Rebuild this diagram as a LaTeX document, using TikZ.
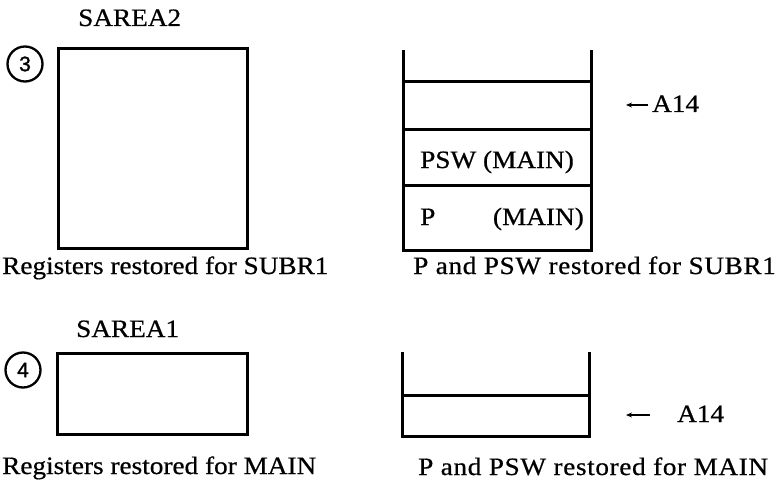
\documentclass[tikz,border=0pt]{standalone}
\usepackage{fontspec}
\setmainfont[FakeStretch=1.09,FakeBold=0.6]{Liberation Serif}
\newfontfamily\numfont[FakeBold=1.2]{Liberation Sans}
\newfontfamily\widefont[FakeStretch=1.09,FakeBold=0.6,LetterSpace=2.5]{Liberation Serif}
\usetikzlibrary{arrows.meta}
\tikzset{
  txt/.style={anchor=base west, inner sep=0pt, font=\fontsize{25}{29}\selectfont},
  widetxt/.style={anchor=base west, inner sep=0pt, font=\widefont\fontsize{25}{29}\selectfont},
  regbox/.style={draw, line width=3pt, inner sep=0pt},
  stk/.style={line width=3pt},
  num/.style={circle, draw, line width=2.3pt, minimum size=35pt, inner sep=0pt, font=\numfont\fontsize{21}{21}\selectfont},
  ptr/.style={line width=1.2pt, -{Stealth[length=6pt,width=5pt]}}
}
\begin{document}
\begin{tikzpicture}[x=1pt,y=-1pt]
\useasboundingbox (0,0) rectangle (784,484);
% ---- step 3 ----
\node[num] (n3) at (25,64) {3};
\node[txt] (sarea2) at (78,26) {SAREA2};
\node[regbox, minimum width=189pt, minimum height=199pt] (box2) at (152.5,148.5) {};
\node[txt] (cap1) at (2,274) {Registers restored for SUBR1};
% stack 1
\coordinate (s1tl) at (403,50);
\coordinate (s1tr) at (591,50);
\coordinate (s1bl) at (403,250);
\coordinate (s1br) at (591,250);
\draw[stk] (s1tl) -- (s1bl) -- (s1br) -- (s1tr);
\coordinate (s1a) at (403,82);  \coordinate (s1a2) at (591,82);
\coordinate (s1b) at (403,130); \coordinate (s1b2) at (591,130);
\coordinate (s1c) at (403,185); \coordinate (s1c2) at (591,185);
\draw[stk] (s1a) -- (s1a2);
\draw[stk] (s1b) -- (s1b2);
\draw[stk] (s1c) -- (s1c2);
\node[txt] (psw1) at (420,168) {PSW (MAIN)};
\node[txt] (p1) at (420,225) {P};
\node[txt, anchor=base east] (pm1) at (584,225) {(MAIN)};
\node[txt] (a14a) at (652,112) {A14};
\coordinate (a14atip) at (626,105);
\draw[ptr] (a14a.west |- a14atip) ++(-4,0) -- (a14atip);
\node[widetxt] (cap2) at (413,274) {P and PSW restored for SUBR1};
% ---- step 4 ----
\node[num] (n4) at (23,370) {4};
\node[txt] (sarea1) at (76,337) {SAREA1};
\node[regbox, minimum width=190pt, minimum height=81pt] (box1) at (152,393.5) {};
\node[txt] (cap3) at (2,474) {Registers restored for MAIN};
% stack 2
\coordinate (s2tl) at (402,352);
\coordinate (s2tr) at (589,352);
\coordinate (s2bl) at (402,436);
\coordinate (s2br) at (589,436);
\draw[stk] (s2tl) -- (s2bl) -- (s2br) -- (s2tr);
\coordinate (s2a) at (402,395); \coordinate (s2a2) at (589,395);
\draw[stk] (s2a) -- (s2a2);
\node[txt] (a14b) at (677,422) {A14};
\coordinate (a14btip) at (626,415);
\coordinate (a14btail) at (650,415);
\draw[ptr] (a14btail) -- (a14btip);
\node[widetxt] (cap4) at (418,475) {P and PSW restored for MAIN};
\end{tikzpicture}
\end{document}
